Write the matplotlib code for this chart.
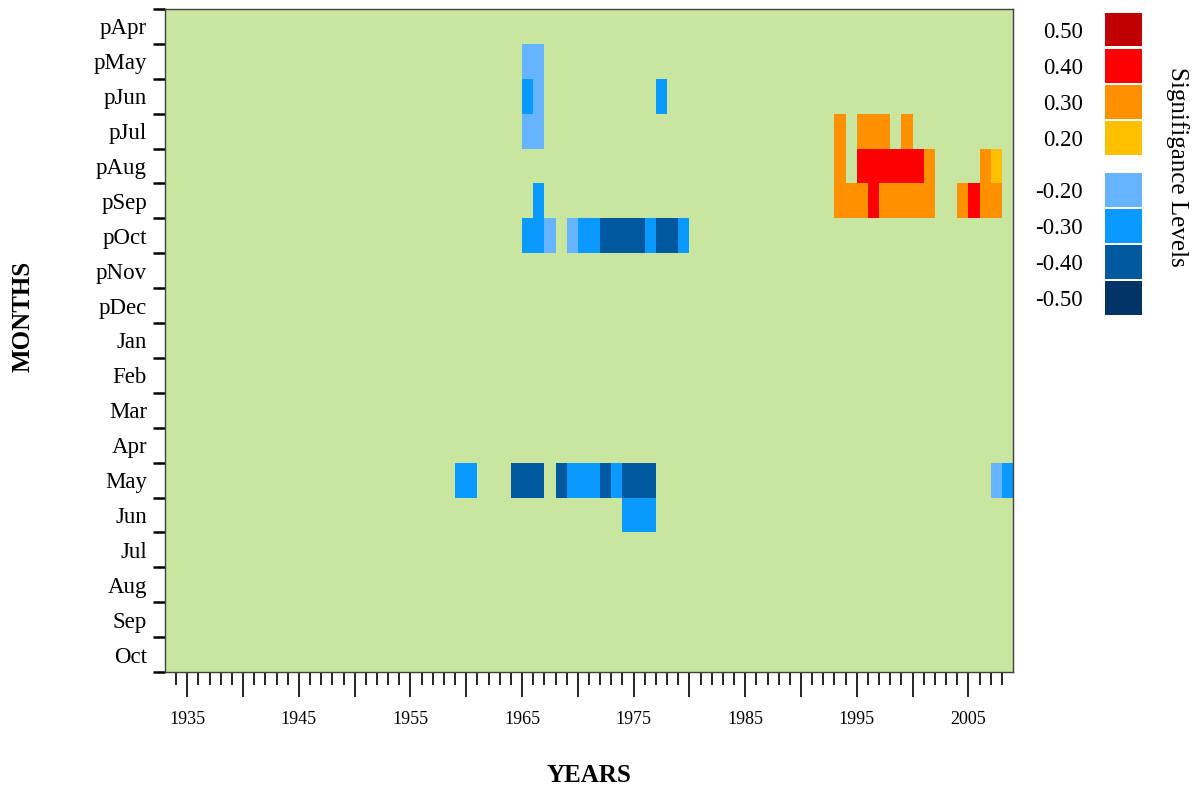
import numpy as np
import matplotlib
matplotlib.use('Agg')
import matplotlib.pyplot as plt
from matplotlib.colors import ListedColormap, BoundaryNorm
from matplotlib.ticker import FixedLocator, FuncFormatter

plt.rcParams['font.family'] = ['Liberation Serif', 'DejaVu Serif']

months = ['pApr', 'pMay', 'pJun', 'pJul', 'pAug', 'pSep', 'pOct', 'pNov', 'pDec',
          'Jan', 'Feb', 'Mar', 'Apr', 'May', 'Jun', 'Jul', 'Aug', 'Sep', 'Oct']
years = np.arange(1933, 2009)

levels = [0.50, 0.40, 0.30, 0.20, -0.20, -0.30, -0.40, -0.50]
level_labels = ['0.50', '0.40', '0.30', '0.20', '-0.20', '-0.30', '-0.40', '-0.50']
level_colors = ['#C00000', '#FF0000', '#FF9000', '#FFC000',
                '#66B3FF', '#0A99FF', '#00589E', '#003366']
bg_green = '#C8E6A0'

# significant correlations, by month and year
sig = {
    'pMay': {1965: -0.2, 1966: -0.2},
    'pJun': {1965: -0.3, 1966: -0.2, 1977: -0.3},
    'pJul': {1965: -0.2, 1966: -0.2, 1993: 0.3, 1995: 0.3, 1996: 0.3,
             1997: 0.3, 1999: 0.3},
    'pAug': {1993: 0.3, 1995: 0.4, 1996: 0.4, 1997: 0.4, 1998: 0.4,
             1999: 0.4, 2000: 0.4, 2001: 0.3, 2006: 0.3, 2007: 0.2},
    'pSep': {1966: -0.3, 1993: 0.3, 1994: 0.3, 1995: 0.3, 1996: 0.4,
             1997: 0.3, 1998: 0.3, 1999: 0.3, 2000: 0.3, 2001: 0.3,
             2004: 0.3, 2005: 0.4, 2006: 0.3, 2007: 0.3},
    'pOct': {1965: -0.3, 1966: -0.3, 1967: -0.2, 1969: -0.2, 1970: -0.3,
             1971: -0.3, 1972: -0.4, 1973: -0.4, 1974: -0.4, 1975: -0.4,
             1976: -0.3, 1977: -0.4, 1978: -0.4, 1979: -0.3},
    'May': {1959: -0.3, 1960: -0.3, 1964: -0.4, 1965: -0.4, 1966: -0.4,
            1968: -0.4, 1969: -0.3, 1970: -0.3, 1971: -0.3, 1972: -0.4,
            1973: -0.3, 1974: -0.4, 1975: -0.4, 1976: -0.4,
            2007: -0.2, 2008: -0.3},
    'Jun': {1974: -0.3, 1975: -0.3, 1976: -0.3},
}

grid = np.zeros((len(months), len(years)))
for m, cells in sig.items():
    i = months.index(m)
    for yr, v in cells.items():
        grid[i, yr - years[0]] = v

cmap = ListedColormap(['#003366', '#00589E', '#0A99FF', '#66B3FF', bg_green,
                       '#FFC000', '#FF9000', '#FF0000', '#C00000'])
norm = BoundaryNorm([-0.55, -0.45, -0.35, -0.25, -0.1, 0.1, 0.25, 0.35, 0.45, 0.55], cmap.N)

fig = plt.figure(figsize=(12.02, 7.87), dpi=100)
ax = fig.add_axes([165 / 1202, 1 - 672 / 787, (1013 - 165) / 1202, (672 - 9) / 787])

x_edges = np.append(years, years[-1] + 1)
y_edges = np.arange(len(months) + 1)
ax.pcolormesh(x_edges, y_edges, grid, cmap=cmap, norm=norm,
              antialiased=False, linewidth=0)
ax.set_xlim(1933, 2009)
ax.set_ylim(len(months), 0)

for s in ax.spines.values():
    s.set_color('#404040')
    s.set_linewidth(1)

# x axis
ax.xaxis.set_major_locator(FixedLocator(np.arange(1935, 2009, 5)))
ax.xaxis.set_minor_locator(FixedLocator(np.arange(1934, 2009, 1)))
ax.xaxis.set_major_formatter(FuncFormatter(lambda v, p: f'{int(v)}' if int(v) % 10 == 5 else ''))
ax.tick_params(axis='x', which='major', length=18, width=1.2, color='black',
               labelsize=13, pad=10)
ax.tick_params(axis='x', which='minor', length=9, width=1.2, color='black')

# y axis
ax.yaxis.set_major_locator(FixedLocator(np.arange(len(months)) + 0.5))
ax.yaxis.set_minor_locator(FixedLocator(np.arange(len(months) + 1)))
ax.set_yticklabels(months)
ax.tick_params(axis='y', which='major', length=0, labelsize=16.5, pad=13)
ax.tick_params(axis='y', which='minor', length=8.6, width=1.8, color='black')

ax.set_xlabel('YEARS', fontsize=18, fontweight='bold', labelpad=26)
fig.text(23 / 1202, 1 - 316 / 787, 'MONTHS', fontsize=18, fontweight='bold',
         rotation=90, ha='center', va='center')

# legend
lax = fig.add_axes([1105 / 1202, 1 - 315 / 787, (1142 - 1105) / 1202, (315 - 12.7) / 787])
h = 0.934
tops = [0, 1, 2, 3, 4.43, 5.43, 6.43, 7.43]
centers = [t + h / 2 for t in tops]
lax.barh(centers, 1, height=h, color=level_colors, left=0)
lax.set_xlim(0, 1)
lax.set_ylim(tops[-1] + h, 0)
for s in lax.spines.values():
    s.set_visible(False)
lax.set_xticks([])
lax.set_yticks(centers)
lax.set_yticklabels(level_labels)
lax.tick_params(axis='y', length=0, labelsize=16.5, pad=16)
fig.text(1177 / 1202, 1 - 167 / 787, 'Signifigance Levels', fontsize=18,
         rotation=270, ha='center', va='center')

fig.savefig('out.png', dpi=100)
